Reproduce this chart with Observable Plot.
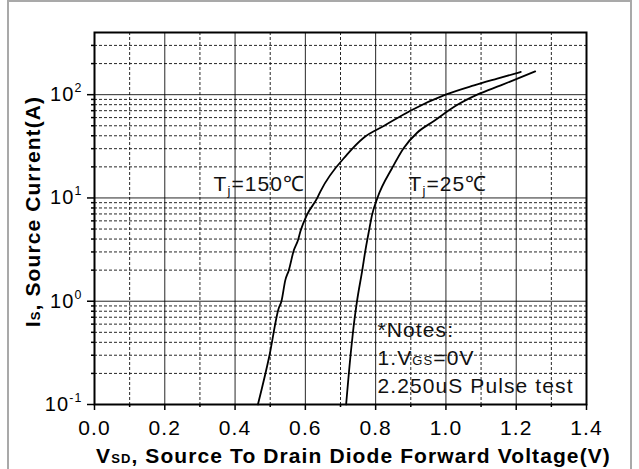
<!DOCTYPE html>
<html><head><meta charset="utf-8">
<script src="https://cdn.jsdelivr.net/npm/d3@7"></script>
<script src="https://cdn.jsdelivr.net/npm/@observablehq/plot@0.6"></script>
<style>
html,body{margin:0;padding:0;background:#fff;overflow:hidden;}
#wrap{position:relative;width:639px;height:469px;}
#border{position:absolute;left:7px;top:0px;width:625px;height:520px;border:2px solid #a9a9a9;box-sizing:border-box;pointer-events:none;}
</style></head>
<body><div id="wrap"><div id="chart"></div><div id="border"></div></div>
<script>
// ---- data ----
const xMajor = [0, 0.2, 0.4, 0.6, 0.8, 1.0, 1.2, 1.4];
const xMinor = [0.1, 0.3, 0.5, 0.7, 0.9, 1.1, 1.3];
const xTickLabels = ["0.0", "0.2", "0.4", "0.6", "0.8", "1.0", "1.2", "1.4"];
const yMajor = [0.1, 1, 10, 100];
const yMinor = [0.2, 0.3, 0.4, 0.5, 0.6, 0.7, 0.8, 0.9,
                2, 3, 4, 5, 6, 7, 8, 9,
                20, 30, 40, 50, 60, 70, 80, 90,
                200, 300];
const yTickLabels = ["10^{-1}", "10^{0}", "10^{1}", "10^{2}"];

const seriesNames = ["Tj=150", "Tj=25"];
const vsd150 = [0.465, 0.498, 0.524, 0.532, 0.543, 0.553, 0.567, 0.579, 0.586, 0.605, 0.634, 0.643, 0.719, 0.766, 0.823, 0.899, 0.999, 1.08, 1.146, 1.213];
const is150  = [0.1,   0.3,   0.85,  1.0,   1.6,   2.0,   3.1,   3.9,   4.75,  6.9,   10,    11.6,  26.4,  38.3,  49.7,  70,    100,   123,  143,   166];
const vsd25  = [0.716, 0.730, 0.736, 0.747, 0.762, 0.771, 0.779, 0.790, 0.805, 0.847, 0.880, 0.918, 0.966, 1.028, 1.089, 1.156, 1.254];
const is25   = [0.1,   0.335, 0.52,  1.0,   2.0,   3.13,  4.4,   6.9,   10,    19.5,  30.5,  42.8,  55.6,  78,    100,   123,   168];

const curveLabels = ["T_{j}=150℃", "T_{j}=25℃"];
const noteLines = ["*Notes:", "1.V~{GS}=0V", "2.250uS Pulse test"];
const xTitle = "V~{SD}, Source To Drain Diode Forward Voltage(V)";
const yTitle = "I~{S}, Source Current(A)";

// ---- table ----
const rows = [];
vsd150.forEach((v, k) => rows.push({s: seriesNames[0], v, i: is150[k]}));
vsd25.forEach((v, k) => rows.push({s: seriesNames[1], v, i: is25[k]}));

const FONT = "'Liberation Sans', Arial, Helvetica, sans-serif";

const plot = Plot.plot({
  width: 639, height: 469,
  marginLeft: 94, marginRight: 53, marginTop: 32, marginBottom: 65,
  x: {domain: [0, 1.4], label: null},
  y: {type: "log", domain: [0.1, 400], label: null},
  style: {fontFamily: FONT, fontSize: "21px", background: "#fff", color: "#000", letterSpacing: "1.1px", overflow: "visible"},
  marks: [
    Plot.gridX(xMinor, {stroke: "#000", strokeOpacity: 0.85, strokeWidth: 1, strokeDasharray: "3,2"}),
    Plot.gridY(yMinor, {stroke: "#000", strokeOpacity: 0.85, strokeWidth: 1, strokeDasharray: "3,2"}),
    Plot.gridX(xMajor, {stroke: "#000", strokeOpacity: 0.85, strokeWidth: 1}),
    Plot.gridY(yMajor, {stroke: "#000", strokeOpacity: 0.85, strokeWidth: 1}),
    Plot.axisX(xMajor, {tickSize: 6, tickPadding: 9.5, strokeWidth: 1.5, fontSize: 21, label: null,
      tickFormat: d => xTickLabels[xMajor.indexOf(d)]}),
    Plot.axisX(xMinor, {tickSize: 3, strokeWidth: 1.5, label: null, tickFormat: () => ""}),
    Plot.axisY(yMajor, {tickSize: 7, tickPadding: 5, strokeWidth: 1.5, fontSize: 20, label: null,
      tickFormat: d => yTickLabels[yMajor.indexOf(d)]}),
    Plot.axisY(yMinor, {tickSize: 3, strokeWidth: 1.5, label: null, tickFormat: () => ""}),
    Plot.frame({stroke: "#000", strokeWidth: 2}),
    Plot.line(rows, {x: "v", y: "i", z: "s", stroke: "#000", strokeWidth: 1.8, curve: "monotone-x"}),
    Plot.text([curveLabels[0]], {frameAnchor: "top-left", dx: 119, dy: 158, lineAnchor: "bottom", textAnchor: "start", fontSize: 21, fill: "#111"}),
    Plot.text([curveLabels[1]], {frameAnchor: "top-left", dx: 314, dy: 158, lineAnchor: "bottom", textAnchor: "start", fontSize: 21, fill: "#111"}),
    Plot.text([xTitle], {frameAnchor: "bottom", dx: 13, dy: 58, lineAnchor: "bottom", textAnchor: "middle", fontWeight: "bold", fontSize: 21, fill: "#000"}),
    Plot.text([yTitle], {frameAnchor: "left", rotate: -90, dx: -55, dy: -7, lineAnchor: "bottom", textAnchor: "middle", fontWeight: "bold", fontSize: 21, fill: "#000"}),
    Plot.text([noteLines.join("\n")], {frameAnchor: "bottom-left", dx: 283, dy: -11.3, lineAnchor: "bottom", textAnchor: "start",
      lineHeight: 1.333, fontSize: 21, fill: "#111", ariaLabel: "notes"})
  ]
});

document.getElementById("chart").appendChild(plot);

// ---- rich text: _{sub} ^{sup} ~{small} ----
const NS = "http://www.w3.org/2000/svg";
function richNode(node, fs) {
  const s = node.textContent;
  if (!/[_^~]\{/.test(s)) return;
  node.textContent = "";
  const re = /([_^~])\{([^}]*)\}/g;
  let last = 0, m, pending = 0;
  const add = (t, kind) => {
    if (!t) return;
    const ts = document.createElementNS(NS, "tspan");
    ts.textContent = t;
    let shift = 0;
    if (kind === "_") { ts.setAttribute("font-size", fs * 0.62); shift = fs * 0.22; }
    else if (kind === "^") { ts.setAttribute("font-size", fs * 0.62); shift = -fs * 0.45; }
    else if (kind === "~") { ts.setAttribute("font-size", fs * 0.62); }
    const d = shift + pending;
    if (d) ts.setAttribute("dy", d);
    pending = -shift;
    node.appendChild(ts);
  };
  while ((m = re.exec(s))) {
    add(s.slice(last, m.index), null);
    add(m[2], m[1]);
    last = re.lastIndex;
  }
  add(s.slice(last), null);
}
plot.querySelectorAll("text").forEach(t => {
  const fs = parseFloat(getComputedStyle(t).fontSize) || 21;
  const lines = t.querySelectorAll(":scope > tspan");
  if (lines.length) lines.forEach(l => richNode(l, fs));
  else richNode(t, fs);
});

// ---- white boxes behind the notes ----
const notesG = plot.querySelector('g[aria-label="notes"]');
if (notesG) {
  const sv = plot.getBoundingClientRect();
  const lines = [...notesG.querySelectorAll("text > tspan")];
  if (lines.length === 3) {
    const b = lines.map(l => l.getBoundingClientRect());
    const r = (x0, y0, x1, y1) => {
      const rc = document.createElementNS(NS, "rect");
      rc.setAttribute("x", x0 - sv.left); rc.setAttribute("y", y0 - sv.top);
      rc.setAttribute("width", x1 - x0); rc.setAttribute("height", y1 - y0);
      rc.setAttribute("fill", "#fff");
      notesG.parentNode.insertBefore(rc, notesG);
    };
    const left = Math.min(b[0].left, b[1].left, b[2].left) - 2;
    const mid = b[2].top + 0.5;
    r(left, b[0].top - 3, Math.max(b[0].right, b[1].right) + 6, mid);
    r(left, mid, b[2].right + 8, b[2].bottom);
  }
}
</script>
</body></html>
